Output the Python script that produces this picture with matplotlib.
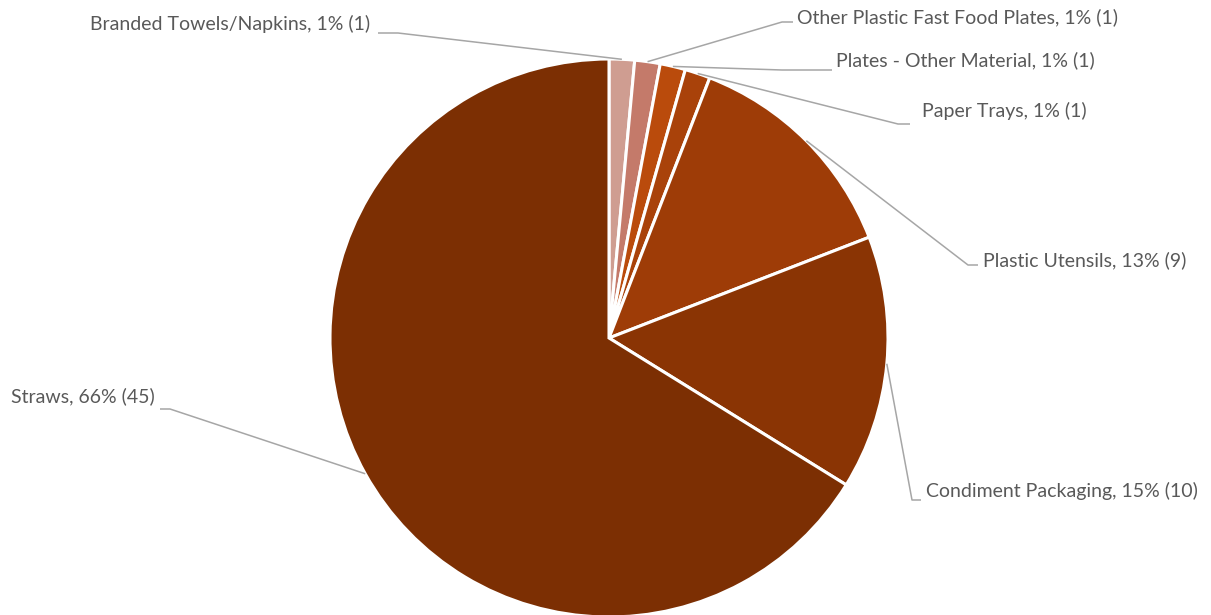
import numpy as np
import matplotlib
matplotlib.use("Agg")
import matplotlib.pyplot as plt

# ─────────────────────────────────────────────────────────────
# DATA
# ─────────────────────────────────────────────────────────────
categories = [
    "Branded Towels/Napkins",
    "Other Plastic Fast Food Plates",
    "Plates - Other Material",
    "Paper Trays",
    "Plastic Utensils",
    "Condiment Packaging",
    "Straws",
]
counts = [1, 1, 1, 1, 9, 10, 45]
colors = ["#CF9D91", "#C47A6A", "#BA4B0C", "#A9420A", "#9E3C07", "#8A3404", "#7C2F03"]

# label text anchor (image pixel coords), alignment, and leader-line elbow
label_pos = [(370, 24), (797, 17), (836, 60), (922, 111), (983, 260), (926, 491), (155, 396)]
label_ha = ["right", "left", "left", "left", "left", "left", "right"]
elbow = [[(398, 33), (378, 33)],
         [(782, 22), (793, 22)],
         [(782, 70), (832, 70)],
         [(898, 124), (910, 124)],
         [(968, 265), (978, 265)],
         [(912, 500), (921, 500)],
         [(170, 409), (160, 409)]]

W, H = 1211, 615
CX, CY, R = 609, 338, 279

fig = plt.figure(figsize=(W / 100, H / 100), dpi=100)
ax = fig.add_axes([0, 0, 1, 1])

wedges, _ = ax.pie(counts, colors=colors, startangle=90, counterclock=False,
                   center=(CX, H - CY), radius=R,
                   wedgeprops=dict(edgecolor="white", linewidth=2.2))
ax.set_xlim(0, W)
ax.set_ylim(0, H)
ax.set_aspect("equal")
ax.axis("off")

total = sum(counts)
for i, w in enumerate(wedges):
    mid = np.deg2rad((w.theta1 + w.theta2) / 2)
    px = CX + R * np.cos(mid)
    py = (H - CY) + R * np.sin(mid)
    pts = [(px, py)] + [(x, H - y) for x, y in elbow[i]]
    xs, ys = zip(*pts)
    ax.plot(xs, ys, color="#A6A6A6", linewidth=1.1, solid_capstyle="butt")
    pct = round(counts[i] / total * 100)
    lx, ly = label_pos[i]
    ax.text(lx, H - ly, f"{categories[i]}, {pct}% ({counts[i]})",
            ha=label_ha[i], va="center", fontsize=14, color="#595959",
            family=["Lato", "DejaVu Sans"])

fig.savefig("out.png", dpi=100, facecolor="white")
